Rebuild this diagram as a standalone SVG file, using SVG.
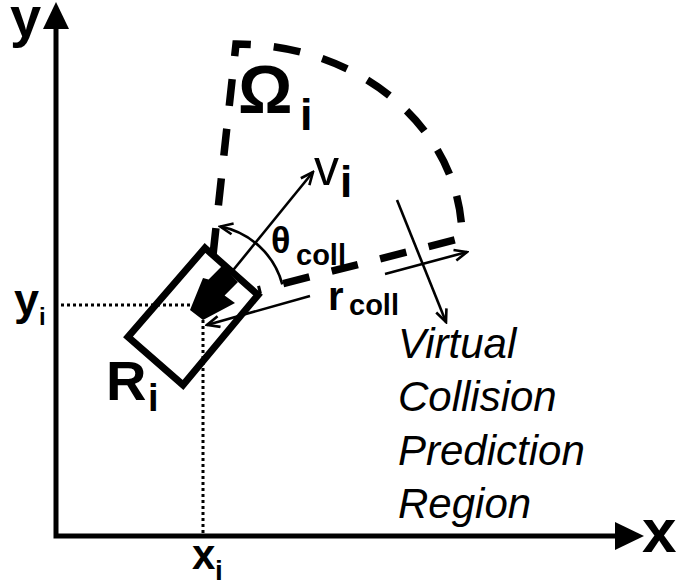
<svg xmlns="http://www.w3.org/2000/svg" width="677" height="587" viewBox="0 0 677 587">
<style>
  .lbl { font-family: "Liberation Sans", Arial, sans-serif; fill: #000; }
  .b { font-weight: bold; }
  .it { font-style: italic; font-size: 42px; }
  .thin { fill: none; stroke: #000; stroke-width: 2.6; }
  .dot { fill: none; stroke: #000; stroke-width: 3; stroke-dasharray: 3 3; }
  .axis { fill: none; stroke: #000; stroke-width: 5; }
</style>
<defs>
  <marker id="open" viewBox="0 0 16 14" refX="14" refY="7" markerWidth="16" markerHeight="14" markerUnits="userSpaceOnUse" orient="auto-start-reverse">
    <path d="M1.5,1.5 L14,7 L1.5,12.5" fill="none" stroke="#000" stroke-width="2.6" stroke-linejoin="miter"/>
  </marker>
</defs>
<rect width="677" height="587" fill="#fff"/>

<g id="axes">
  <path class="axis" d="M56,28 L56,536 L617,536"/>
  <polygon points="56,2 43,29 69,29" fill="#000"/>
  <polygon points="644,536 615,522 615,550" fill="#000"/>
  <text class="lbl b" x="10" y="36" font-size="56">y</text>
  <text class="lbl b" x="642" y="552" font-size="62">x</text>
</g>

<g id="guides">
  <line class="dot" x1="61" y1="305" x2="193" y2="305"/>
  <line class="dot" x1="203" y1="320" x2="203" y2="534"/>
  <text class="lbl b" x="14" y="315" font-size="45">y</text>
  <text class="lbl b" x="39" y="325" font-size="24">i</text>
  <text class="lbl b" x="192" y="569" font-size="42">x</text>
  <text class="lbl b" x="215" y="580" font-size="28">i</text>
</g>

<g id="region-omega">
  <path d="M213,255 L236,44 C361,44 462,131 462,238 L258,290" fill="none" stroke="#000" stroke-width="7.5" stroke-dasharray="27 23"/>
  <text class="lbl b" x="238" y="113" font-size="68">Ω</text>
  <text class="lbl b" x="300" y="130" font-size="45">i</text>
</g>

<g id="vehicle-R">
  <polygon points="205,248 258,295 183,385 128,337" fill="none" stroke="#000" stroke-width="7"/>
  <polygon points="222,266 238,282 224.6,295.4 235,303 203,320 190,310 203,278 208.6,279.4" fill="#000"/>
  <text class="lbl b" x="106" y="400" font-size="56">R</text>
  <text class="lbl b" x="148" y="411" font-size="38">i</text>
</g>

<g id="connectors">
  <line class="thin" x1="230" y1="274" x2="313" y2="172" marker-end="url(#open)"/>
  <path class="thin" d="M282.3,284.3 A80,80 0 0,0 220.3,226.5" marker-end="url(#open)"/>
  <line class="thin" x1="310" y1="296" x2="207" y2="325" marker-end="url(#open)"/>
  <line class="thin" x1="385" y1="274" x2="467" y2="252" marker-end="url(#open)"/>
  <line class="thin" x1="397" y1="200" x2="446" y2="322" marker-end="url(#open)"/>
</g>

<g id="labels">
  <text class="lbl" x="314" y="185" font-size="50">v</text>
  <text class="lbl b" x="340" y="197" font-size="44">i</text>
  <text class="lbl b" x="271" y="253" font-size="36">θ</text>
  <text class="lbl b" x="296" y="265" font-size="29">coll</text>
  <text class="lbl b" x="328" y="310" font-size="40">r</text>
  <text class="lbl b" x="349" y="315" font-size="29">coll</text>
  <text class="lbl it" x="398" y="358">Virtual</text>
  <text class="lbl it" x="398" y="411">Collision</text>
  <text class="lbl it" x="398" y="465">Prediction</text>
  <text class="lbl it" x="398" y="518">Region</text>
</g>
</svg>
